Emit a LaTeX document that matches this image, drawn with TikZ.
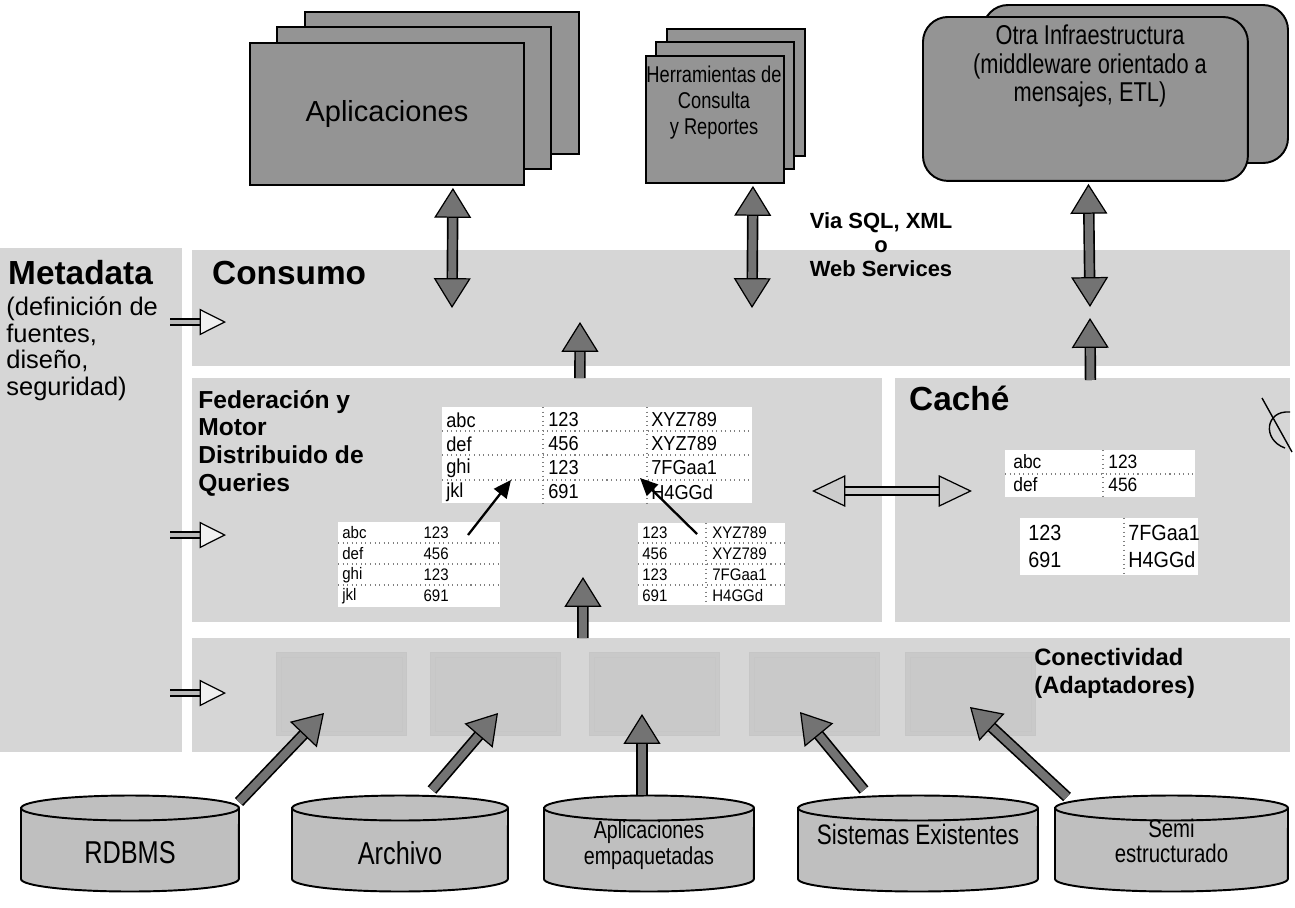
\documentclass[tikz,border=0pt]{standalone}
\usepackage{fontspec}
\setmainfont{Liberation Sans}
\newfontfamily\tabfont[FakeStretch=0.9]{Liberation Sans}
\newfontfamily\narrowfont[FakeStretch=0.8]{Liberation Sans}
\usetikzlibrary{arrows.meta,calc,positioning}

\definecolor{bandgray}{gray}{0.84}
\definecolor{boxgray}{gray}{0.58}
\definecolor{cylgray}{gray}{0.75}
\definecolor{arrgray}{gray}{0.45}
\definecolor{adapgray}{gray}{0.79}

\newcommand{\fsz}[2]{\fontsize{#1}{#2}\selectfont}

% flecha gruesa
\newcommand{\fatarrow}[3][arrgray]{%
  \draw[line width=6.5pt] (#2) -- ($(#3)!14pt!(#2)$);
  \draw[line width=4.6pt, #1] (#2) -- ($(#3)!13pt!(#2)$);
  \draw[line width=0.7pt, -{Triangle[length=17pt, width=21pt, fill=#1]}] ($(#3)!15pt!(#2)$) -- (#3);
}
% flecha gruesa doble
\newcommand{\fatdarrow}[3][arrgray]{%
  \draw[line width=6.5pt] ($(#2)!14pt!(#3)$) -- ($(#3)!14pt!(#2)$);
  \draw[line width=4.6pt, #1] ($(#2)!13pt!(#3)$) -- ($(#3)!13pt!(#2)$);
  \draw[line width=0.7pt, -{Triangle[length=17pt, width=21pt, fill=#1]}] ($(#3)!15pt!(#2)$) -- (#3);
  \draw[line width=0.7pt, -{Triangle[length=17pt, width=21pt, fill=#1]}] ($(#2)!15pt!(#3)$) -- (#2);
}
% flecha clara (metadata)
\newcommand{\smallarrow}[3][gray!55]{%
  \draw[line width=4.5pt] (#2) -- ($(#3)!12pt!(#2)$);
  \draw[line width=2.8pt, #1] (#2) -- ($(#3)!11pt!(#2)$);
  \draw[line width=0.7pt, -{Triangle[length=15pt, width=15pt, fill=gray!12]}] ($(#3)!13pt!(#2)$) -- (#3);
}
% flecha doble clara (cache)
\newcommand{\middarrow}[3][gray!40]{%
  \draw[line width=5.5pt] ($(#2)!15pt!(#3)$) -- ($(#3)!15pt!(#2)$);
  \draw[line width=3.8pt, #1] ($(#2)!14pt!(#3)$) -- ($(#3)!14pt!(#2)$);
  \draw[line width=0.7pt, -{Triangle[length=19pt, width=18pt, fill=#1]}] ($(#3)!17pt!(#2)$) -- (#3);
  \draw[line width=0.7pt, -{Triangle[length=19pt, width=18pt, fill=#1]}] ($(#2)!17pt!(#3)$) -- (#2);
}
% cilindro: nombre, izq, der, y del texto, fuente, texto
\newcommand{\dbcyl}[6]{%
  \pgfmathsetmacro{\rx}{(#3-#2)*0.01}
  \filldraw[cyl] (#2,808) -- (#2,879) arc[start angle=180, end angle=360, x radius=\rx cm, y radius=0.25cm]
    -- (#3,808) arc[start angle=0, end angle=180, x radius=\rx cm, y radius=0.25cm] -- cycle;
  \draw[cyl, fill=none] (#2,808) arc[start angle=180, end angle=360, x radius=\rx cm, y radius=0.25cm];
  \node[cyltext, font=#5] (#1) at ({(#2+#3)/2},#4) {#6};
}

\begin{document}
\begin{tikzpicture}[x=0.02cm, y=-0.02cm,
  sheet/.style={draw, line width=1.1pt, fill=boxgray, inner sep=0pt},
  band/.style={fill=bandgray, inner sep=0pt, outer sep=0pt},
  tab/.style={fill=white, inner sep=0pt, outer sep=0pt},
  sep/.style={gray, dotted, line width=0.6pt},
  cell/.style={inner sep=0pt, font=\tabfont\fontsize{#1}{#1}\selectfont},
  adapter/.style={fill=adapgray, draw=gray!45, line width=0.6pt, inner sep=0pt,
    minimum width=2.6cm, minimum height=1.66cm},
  cyl/.style={draw, line width=1.1pt, fill=cylgray},
  cyltext/.style={align=center, inner sep=0pt},
  blackarr/.style={line width=1.3pt, -{Triangle[length=10pt, width=9pt]}}]
  \useasboundingbox (0,0) rectangle (1295,907);

  % paneles
  \node[band, anchor=north west, minimum width=3.64cm, minimum height=10.08cm] (meta) at (0,248) {};
  \node[band, anchor=north west, minimum width=21.96cm, minimum height=2.32cm] (cons) at (192,250) {};
  \node[band, anchor=north west, minimum width=13.8cm, minimum height=4.88cm] (fed) at (192,378) {};
  \node[band, anchor=north west, minimum width=7.9cm, minimum height=4.88cm] (cache) at (895,378) {};
  \node[band, anchor=north west, minimum width=21.96cm, minimum height=2.28cm] (conn) at (192,638) {};

  % adaptadores
  \foreach \xa [count=\i] in {276,430,589,749,905} {
    \node[adapter, anchor=north west] (ad\i) at (\xa,652) {};
    \draw[gray!45, line width=0.5pt] ($(ad\i.north west)+(5,5)$) rectangle ($(ad\i.south east)+(-5,-5)$);
  }

  % titulos
  \node[anchor=west, font=\bfseries\fsz{19}{22}] (metatit) at (2,273) {Metadata};
  \node[anchor=north west, align=left, inner sep=0pt, font=\fsz{14.5}{15.3}] (metatxt) at (6,296)
    {(definición de\\fuentes,\\diseño,\\seguridad)};
  \node[anchor=west, font=\bfseries\fsz{19}{22}] (constit) at (206,273) {Consumo};
  \node[anchor=north west, align=left, inner sep=0pt, font=\bfseries\fsz{14}{15.7}] (fedtit) at (198,390)
    {Federación y\\Motor\\Distribuido de\\Queries};
  \node[anchor=west, font=\bfseries\fsz{19}{22}] (cachetit) at (903,398) {Caché};
  \node[anchor=west, align=left, inner sep=0pt, font=\bfseries\fsz{13.5}{16}] (conntit) at (1034,673)
    {Conectividad\\(Adaptadores)};
  \node[align=center, inner sep=0pt, font=\bfseries\fsz{12.5}{13.6}] (via) at (881,245)
    {Via SQL, XML\\o\\Web Services};

  % tabla central
  \node[tab, anchor=north west, minimum width=6.2cm, minimum height=1.92cm] (mtab) at (442,407) {};
  \foreach \yy in {431,455,480} \draw[sep] (442,\yy) -- (752,\yy);
  \foreach \xx in {543,647} \draw[sep] (\xx,407) -- (\xx,503);
  \foreach \a/\b/\c [count=\i] in {abc/123/XYZ789, def/456/XYZ789, ghi/123/7FGaa1, jkl/691/H4GGd} {
    \node[cell=11.5, anchor=west] (m\i-a) at (446,396+24*\i) {\a};
    \node[cell=11.5, anchor=west] (m\i-b) at (548,396+24*\i) {\b};
    \node[cell=11.5, anchor=west] (m\i-c) at (651,396+24*\i) {\c};
  }

  % tabla izquierda
  \node[tab, anchor=north west, minimum width=3.24cm, minimum height=1.7cm] (ltab) at (338,522) {};
  \foreach \yy in {543,564,585} \draw[sep] (338,\yy) -- (500,\yy);
  \foreach \a/\b [count=\i] in {abc/123, def/456, ghi/123, jkl/691} {
    \node[cell=9.5, anchor=west] (l\i-a) at (342,512+21*\i) {\a};
    \node[cell=9.5, anchor=east] (l\i-b) at (449,512+21*\i) {\b};
  }

  % tabla derecha
  \node[tab, anchor=north west, minimum width=2.94cm, minimum height=1.64cm] (rtab) at (638,523) {};
  \foreach \yy in {543,564,585} \draw[sep] (638,\yy) -- (785,\yy);
  \draw[sep] (706,523) -- (706,605);
  \foreach \a/\b [count=\i] in {123/XYZ789, 456/XYZ789, 123/7FGaa1, 691/H4GGd} {
    \node[cell=9.5, anchor=west] (r\i-a) at (642,512+21*\i) {\a};
    \node[cell=9.5, anchor=west] (r\i-b) at (712,512+21*\i) {\b};
  }

  % flechas negras hacia la tabla central
  \coordinate (lfrom) at (468,535);
  \coordinate (mto1) at (511,480);
  \coordinate (rfrom) at (697,534);
  \coordinate (mto2) at (640,478);
  \draw[blackarr] (lfrom) -- (mto1);
  \draw[blackarr] (rfrom) -- (mto2);

  % tablas del cache
  \node[tab, anchor=north west, minimum width=3.8cm, minimum height=0.94cm] (ctab1) at (1005,450) {};
  \draw[sep] (1005,474) -- (1195,474);
  \draw[sep] (1103,450) -- (1103,497);
  \node[cell=11, anchor=west] (c1-a) at (1013,462) {abc};
  \node[cell=11, anchor=west] (c1-b) at (1108,462) {123};
  \node[cell=11, anchor=west] (c2-a) at (1013,485) {def};
  \node[cell=11, anchor=west] (c2-b) at (1108,485) {456};
  \node[tab, anchor=north west, minimum width=3.56cm, minimum height=1.14cm] (ctab2) at (1020,518) {};
  \draw[sep] (1124,518) -- (1124,575);
  \node[cell=12.5, anchor=west] (c3-a) at (1028,533) {123};
  \node[cell=12.5, anchor=west] (c3-b) at (1128,533) {7FGaa1};
  \node[cell=12.5, anchor=west] (c4-a) at (1028,560) {691};
  \node[cell=12.5, anchor=west] (c4-b) at (1128,560) {H4GGd};

  % marca a mano
  \draw[line width=0.8pt] (1262,398) -- (1292,452);
  \draw[line width=0.8pt] (1290,412) .. controls (1265,410) and (1262,440) .. (1285,448);

  % Aplicaciones
  \foreach \k in {2,1}
    \draw[sheet] ($(249,42)+(28*\k,-15*\k)$) rectangle +(274,142);
  \node[sheet, anchor=north west, minimum width=5.48cm, minimum height=2.84cm,
    font=\fsz{16.5}{19}] (apps) at (249,42) {Aplicaciones};

  % Herramientas
  \foreach \k in {2,1}
    \draw[sheet] ($(645,55)+(11*\k,-13*\k)$) rectangle +(138,127);
  \node[sheet, anchor=north west, minimum width=2.76cm, minimum height=2.54cm] (tools) at (645,55) {};
  \node[align=center, inner sep=0pt, font=\narrowfont\fsz{13}{14.8}] (toolstxt) at (714,103)
    {Herramientas de\\Consulta\\y Reportes};

  % Otra infraestructura
  \draw[sheet, rounded corners=0.5cm] (983,5) rectangle (1288,163);
  \node[sheet, rounded corners=0.5cm, anchor=north west, minimum width=6.5cm, minimum height=3.28cm] (otra) at (922,16) {};
  \node[align=center, inner sep=0pt, font=\narrowfont\fsz{15.5}{16.4}] (otratxt) at (1090,66)
    {Otra Infraestructura\\(middleware orientado a\\mensajes, ETL)};

  % fuentes de datos
  \dbcyl{rdbms}{21}{239}{853}{\narrowfont\fsz{18}{20}}{RDBMS}
  \dbcyl{arch}{292}{508}{853}{\narrowfont\fsz{18}{20}}{Archivo}
  \dbcyl{paq}{544}{754}{845}{\narrowfont\fsz{14}{14.5}}{Aplicaciones\\empaquetadas}
  \dbcyl{sist}{798}{1038}{834}{\narrowfont\fsz{16}{16}}{Sistemas Existentes}
  \dbcyl{semi}{1055}{1288}{841}{\narrowfont\fsz{14.5}{14.5}}{Semi\\estructurado}

  % flechas dobles hacia Consumo
  \coordinate (appsA) at ($(apps.south)+(66,2)$);
  \coordinate (appsB) at (452,308);
  \coordinate (toolsA) at ($(tools.south)+(38,2)$);
  \coordinate (toolsB) at (752,308);
  \coordinate (otraA) at ($(otra.south)+(3,2)$);
  \coordinate (otraB) at (1090,307);
  \fatdarrow{appsA}{appsB}
  \fatdarrow{toolsA}{toolsB}
  \fatdarrow{otraA}{otraB}

  % flechas hacia arriba
  \coordinate (fedA) at ($(fed.north)+(43,0)$);
  \coordinate (consB) at (580,322);
  \coordinate (cacheA) at ($(cache.north)+(-2,2)$);
  \coordinate (consC) at (1090,318);
  \coordinate (connA) at ($(conn.north)+(-158,0)$);
  \coordinate (fedB) at (583,577);
  \fatarrow{fedA}{consB}
  \fatarrow{cacheA}{consC}
  \fatarrow{connA}{fedB}

  % fuentes hacia adaptadores
  \coordinate (rdbmsA) at (239,802);   \coordinate (ad1B) at (324,713);
  \coordinate (archA) at (432,790);    \coordinate (ad2B) at (498,713);
  \coordinate (paqA) at (642,795);     \coordinate (ad3B) at (642,714);
  \coordinate (sistA) at (864,790);    \coordinate (ad4B) at (800,712);
  \coordinate (semiA) at (1067,797);   \coordinate (ad5B) at (970,707);
  \fatarrow{rdbmsA}{ad1B}
  \fatarrow{archA}{ad2B}
  \fatarrow{paqA}{ad3B}
  \fatarrow{sistA}{ad4B}
  \fatarrow{semiA}{ad5B}

  % federacion <-> cache
  \coordinate (fedC) at (812,491);
  \coordinate (cacheB) at (972,491);
  \middarrow{fedC}{cacheB}

  % metadata
  \coordinate (metaA) at (170,322);  \coordinate (consD) at (226,322);
  \coordinate (metaB) at (170,535);  \coordinate (fedD) at (226,535);
  \coordinate (metaC) at (170,693);  \coordinate (connD) at (226,693);
  \smallarrow{metaA}{consD}
  \smallarrow{metaB}{fedD}
  \smallarrow{metaC}{connD}
\end{tikzpicture}
\end{document}
